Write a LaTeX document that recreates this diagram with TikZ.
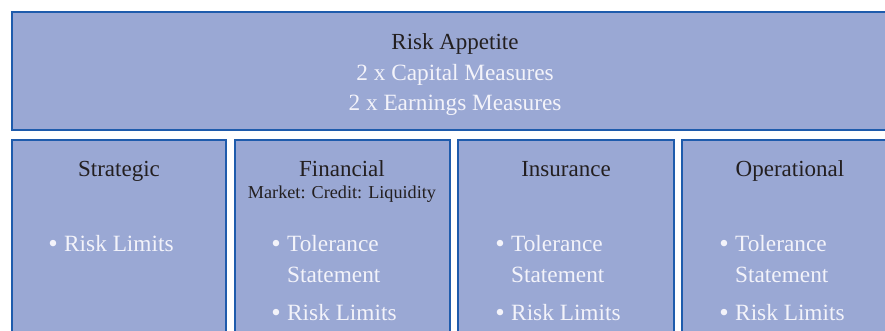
\documentclass[tikz,border=0pt]{standalone}
\usepackage{fontspec}
\setmainfont{Liberation Serif}
\definecolor{panelfill}{HTML}{9AA8D4}
\definecolor{panelline}{HTML}{1E5BAC}
\definecolor{headtext}{HTML}{231F20}
\definecolor{bodytext}{HTML}{F3F3FA}
\begin{document}
\begin{tikzpicture}[x=1pt,y=-1pt,
  panel/.style={draw=panelline,line width=2pt,fill=panelfill},
  head/.style={anchor=base,inner sep=0pt,text=headtext,font=\fontsize{23}{27}\selectfont},
  subhead/.style={anchor=base,inner sep=0pt,text=headtext,font=\fontsize{18.2}{21}\selectfont},
  body/.style={anchor=base,inner sep=0pt,text=bodytext,font=\fontsize{23.3}{27}\selectfont},
  item/.style={anchor=base west,inner sep=0pt,text=bodytext,font=\fontsize{23.3}{27}\selectfont},
  dot/.style={anchor=base,inner sep=0pt,text=bodytext,font=\fontsize{27}{30}\selectfont}]
\useasboundingbox (0,0) rectangle (885,331);
\clip (0,0) rectangle (885,331);

% top band
\draw[panel] (12,12) rectangle (895,130);
\node[head] (apt) at (455,50) {Risk Appetite};
\node[body] (cap) at (455,81) {2 x Capital Measures};
\node[body] (ern) at (455,111) {2 x Earnings Measures};

% four category panels
\draw[panel] (12,140) rectangle (226,345);
\draw[panel] (235,140) rectangle (450,345);
\draw[panel] (458,140) rectangle (674,345);
\draw[panel] (682,140) rectangle (895,345);

% Strategic
\node[head] (strat) at (119,176) {Strategic};
\node[dot] (sb1) at (53,252) {•};
\node[item] (sl1) at (64,251) {Risk Limits};

% Financial
\node[head] (fin) at (342,176) {Financial};
\node[subhead] (finsub) at (342,198) {Market: Credit: Liquidity};
\node[dot] (fb1) at (276,252) {•};
\node[item] (ft1) at (287,251) {Tolerance};
\node[item] (ft2) at (287,282) {Statement};
\node[dot] (fb2) at (276,321) {•};
\node[item] (fl1) at (287,320) {Risk Limits};

% Insurance
\node[head] (ins) at (566,176) {Insurance};
\node[dot] (ib1) at (500,252) {•};
\node[item] (it1) at (511,251) {Tolerance};
\node[item] (it2) at (511,282) {Statement};
\node[dot] (ib2) at (500,321) {•};
\node[item] (il1) at (511,320) {Risk Limits};

% Operational
\node[head] (ops) at (790,176) {Operational};
\node[dot] (ob1) at (724,252) {•};
\node[item] (ot1) at (735,251) {Tolerance};
\node[item] (ot2) at (735,282) {Statement};
\node[dot] (ob2) at (724,321) {•};
\node[item] (ol1) at (735,320) {Risk Limits};
\end{tikzpicture}
\end{document}
